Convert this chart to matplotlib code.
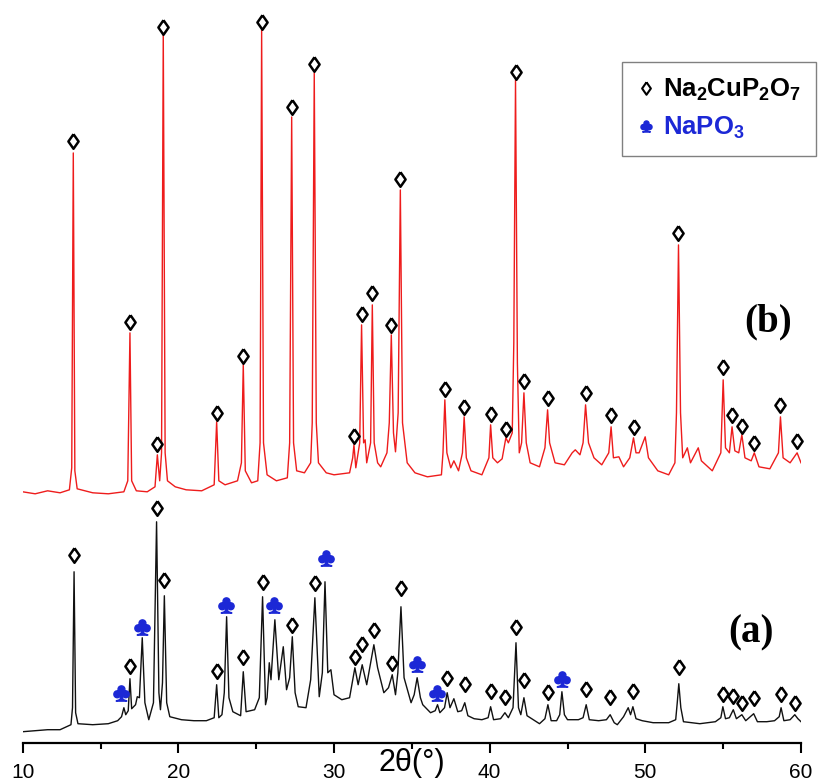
import matplotlib as mpl
mpl.use('Agg')
import matplotlib.pyplot as plt
import matplotlib.ticker as ticker
from matplotlib.lines import Line2D

OUTPUT_FILE = 'out.png'
DPI = 100
Y_MAX = 743

mpl.rcParams['font.family'] = 'Liberation Sans'
mpl.rcParams['mathtext.fontset'] = 'custom'
mpl.rcParams['mathtext.rm'] = 'Liberation Sans'
mpl.rcParams['mathtext.bf'] = 'Liberation Sans:bold'

COLORS = {'b': '#ee1c1c', 'a': '#111111', 'napo3': '#1c28d6'}

# (2theta, intensity a.u.), pattern (b) is stacked on top
red_pattern = [
    (10.0, 251), (10.8, 249), (11.6, 252), (12.4, 250), (13.0, 253),
    (13.15, 275), (13.25, 590), (13.35, 272), (13.5, 254), (14.5, 250),
    (15.5, 249), (16.5, 251), (16.75, 262), (16.89, 410), (17.0, 262),
    (17.3, 252), (18.0, 251), (18.5, 256), (18.65, 288), (18.8, 262),
    (18.92, 290), (19.03, 710), (19.15, 290), (19.3, 262), (19.8, 256),
    (20.5, 253), (21.5, 252), (22.3, 258), (22.46, 321), (22.6, 262),
    (23.0, 258), (23.8, 262), (24.05, 280), (24.17, 378), (24.3, 272),
    (24.7, 260), (25.1, 262), (25.25, 300), (25.35, 713), (25.47, 300),
    (25.7, 268), (26.3, 262), (27.0, 265), (27.15, 300), (27.28, 626),
    (27.4, 300), (27.6, 272), (28.1, 270), (28.5, 280), (28.6, 320),
    (28.73, 670), (28.86, 320), (29.0, 280), (29.5, 270), (30.0, 268),
    (31.0, 270), (31.2, 285), (31.28, 298), (31.4, 275), (31.65, 300),
    (31.77, 418), (31.9, 300), (32.0, 303), (32.1, 280), (32.35, 300),
    (32.46, 438), (32.58, 300), (32.8, 280), (33.0, 276), (33.4, 290),
    (33.55, 320), (33.68, 408), (33.82, 310), (33.95, 291), (34.12, 330),
    (34.26, 553), (34.4, 320), (34.7, 280), (35.2, 270), (36.0, 266),
    (36.9, 268), (37.0, 290), (37.12, 343), (37.25, 290), (37.5, 275),
    (37.7, 282), (38.0, 272), (38.25, 290), (38.36, 326), (38.5, 285),
    (38.8, 272), (39.5, 268), (39.95, 285), (40.06, 318), (40.2, 285),
    (40.5, 280), (40.8, 284), (41.04, 305), (41.2, 300), (41.45, 310),
    (41.55, 400), (41.66, 663), (41.78, 380), (41.9, 290), (42.05, 300),
    (42.2, 350), (42.35, 300), (42.6, 280), (43.2, 276), (43.55, 295),
    (43.72, 333), (43.85, 300), (44.2, 280), (44.8, 278), (45.3, 290),
    (45.5, 293), (45.8, 288), (46.0, 300), (46.16, 338), (46.35, 300),
    (46.7, 285), (47.2, 278), (47.65, 290), (47.8, 316), (47.95, 285),
    (48.3, 286), (48.6, 276), (49.0, 285), (49.24, 305), (49.4, 290),
    (49.6, 290), (49.99, 306), (50.2, 285), (50.8, 272), (51.5, 268),
    (51.9, 280), (52.0, 330), (52.13, 498), (52.26, 330), (52.4, 285),
    (52.7, 295), (52.9, 280), (53.4, 295), (53.6, 282), (54.3, 272),
    (54.85, 290), (55.0, 363), (55.15, 295), (55.4, 290), (55.57, 316),
    (55.75, 292), (56.0, 290), (56.2, 308), (56.4, 285), (56.8, 282),
    (57.0, 290), (57.3, 276), (58.0, 274), (58.55, 290), (58.68, 326),
    (58.85, 285), (59.3, 280), (59.75, 290), (60.0, 280),
]

black_pattern = [
    (10.0, 11), (10.8, 12), (11.6, 13), (12.4, 13), (13.1, 18),
    (13.2, 35), (13.3, 171), (13.4, 30), (13.55, 19), (14.5, 18),
    (15.5, 19), (16.1, 22), (16.35, 26), (16.5, 35), (16.62, 28),
    (16.78, 32), (16.89, 64), (17.0, 34), (17.25, 38), (17.36, 46),
    (17.5, 45), (17.68, 105), (17.85, 40), (18.1, 23), (18.4, 40),
    (18.6, 221), (18.75, 50), (18.85, 33), (18.98, 60), (19.1, 147),
    (19.25, 40), (19.45, 26), (20.2, 23), (21.0, 22), (21.8, 22),
    (22.3, 25), (22.46, 58), (22.6, 25), (22.8, 28), (22.95, 50),
    (23.1, 126), (23.25, 45), (23.5, 31), (24.0, 27), (24.17, 71),
    (24.35, 31), (24.9, 33), (25.2, 45), (25.41, 146), (25.6, 38),
    (25.7, 45), (25.84, 80), (25.95, 63), (26.2, 123), (26.45, 63),
    (26.74, 96), (26.95, 53), (27.15, 65), (27.32, 106), (27.5, 50),
    (27.7, 36), (28.2, 35), (28.5, 63), (28.77, 145), (29.05, 46),
    (29.25, 70), (29.42, 161), (29.6, 70), (29.8, 73), (30.0, 48),
    (30.5, 43), (31.0, 45), (31.34, 75), (31.55, 58), (31.81, 78),
    (32.1, 58), (32.35, 80), (32.56, 98), (32.8, 75), (33.2, 50),
    (33.5, 55), (33.74, 68), (33.95, 48), (34.1, 70), (34.3, 136),
    (34.5, 65), (34.95, 40), (35.15, 48), (35.34, 65), (35.55, 45),
    (35.7, 38), (36.2, 30), (36.5, 32), (36.65, 38), (36.8, 30),
    (37.1, 35), (37.27, 50), (37.45, 35), (37.7, 44), (37.95, 31),
    (38.2, 32), (38.4, 40), (38.6, 27), (39.0, 24), (39.5, 23),
    (39.9, 25), (40.06, 36), (40.25, 23), (40.7, 24), (40.98, 30),
    (41.2, 25), (41.5, 35), (41.69, 100), (41.85, 35), (42.0, 28),
    (42.2, 45), (42.4, 27), (42.7, 24), (43.2, 19), (43.55, 24),
    (43.74, 38), (43.95, 22), (44.3, 22), (44.5, 28), (44.64, 51),
    (44.8, 28), (45.0, 23), (45.7, 23), (46.0, 25), (46.2, 38),
    (46.4, 23), (47.0, 22), (47.5, 23), (47.74, 28), (48.0, 20),
    (48.2, 18), (48.6, 26), (48.9, 35), (49.05, 28), (49.2, 36),
    (49.4, 24), (49.8, 22), (50.5, 20), (51.5, 20), (51.95, 23),
    (52.05, 40), (52.15, 59), (52.28, 35), (52.45, 21), (53.0, 20),
    (53.5, 19), (54.5, 21), (54.85, 25), (54.98, 36), (55.15, 24),
    (55.4, 25), (55.65, 33), (55.85, 24), (56.2, 28), (56.45, 22),
    (56.96, 29), (57.2, 21), (57.8, 21), (58.3, 22), (58.6, 26),
    (58.72, 35), (58.9, 22), (59.3, 23), (59.6, 28), (59.8, 24),
    (60.0, 21),
]

# Na2CuP2O7 reflections (diamonds) and NaPO3 reflections (clubs)
red_peak_marks = [
    (13.25, 602), (16.89, 421), (18.65, 299), (19.03, 716), (22.46, 330),
    (24.17, 387), (25.35, 721), (27.28, 636), (28.73, 679), (31.28, 307),
    (31.77, 429), (32.46, 450), (33.68, 418), (34.26, 564), (37.12, 354),
    (38.36, 336), (40.06, 329), (41.04, 314), (41.66, 671), (42.2, 362),
    (43.72, 345), (46.16, 350), (47.8, 328), (49.24, 316), (52.13, 510),
    (55.0, 376), (55.57, 328), (56.2, 317), (57.0, 300), (58.68, 338),
    (59.75, 302),
]
black_peak_marks = [
    (13.3, 188), (16.89, 77), (18.6, 235), (19.1, 163), (22.46, 72),
    (24.17, 86), (25.41, 161), (27.32, 118), (28.77, 160), (31.34, 86),
    (31.81, 99), (32.56, 113), (33.74, 80), (34.3, 155), (37.27, 65),
    (38.4, 59), (40.06, 52), (40.98, 46), (41.69, 116), (42.2, 63),
    (43.74, 51), (46.2, 54), (47.74, 46), (49.2, 52), (52.15, 76),
    (54.98, 49), (55.65, 47), (56.2, 40), (56.96, 45), (58.72, 49),
    (59.6, 40),
]
club_marks = [
    (16.3, 50), (17.64, 116), (23.04, 138), (26.16, 138), (29.48, 185),
    (35.32, 79), (36.63, 50), (44.64, 64),
]

pattern_labels = [('(b)', 57.87, 421), ('(a)', 56.77, 110)]

DIAMOND = [(0, 1), (0.7, 0), (0, -1), (-0.7, 0), (0, 1)]


def split_xy(points):
    xs = [p[0] for p in points]
    ys = [p[1] for p in points]
    return xs, ys


def plot_xrd() -> None:
    fig = plt.figure(figsize=(8.18, 7.82), dpi=DPI)
    ax = fig.add_axes([22.7 / 818, 39.3 / 782, 778.3 / 818, 742.7 / 782])

    x, y = split_xy(red_pattern)
    ax.plot(x, y, color=COLORS['b'], linewidth=1.0)
    x, y = split_xy(black_pattern)
    ax.plot(x, y, color=COLORS['a'], linewidth=1.0)

    for marks in (red_peak_marks, black_peak_marks):
        x, y = split_xy(marks)
        ax.plot(x, y, linestyle='none', marker=DIAMOND, markersize=10.5,
                markerfacecolor='white', markeredgecolor='black',
                markeredgewidth=1.8, clip_on=False)

    x, y = split_xy(club_marks)
    ax.plot(x, y, linestyle='none', marker=r'$\clubsuit$', markersize=11,
            color=COLORS['napo3'], clip_on=False)

    for text, tx, ty in pattern_labels:
        ax.text(tx, ty, text, ha='center', va='center', fontsize=28,
                fontweight='bold', family='Liberation Serif')

    ax.set_xlim(10, 60)
    ax.set_ylim(0, Y_MAX)
    ax.xaxis.set_major_locator(ticker.MultipleLocator(10))
    ax.xaxis.set_minor_locator(ticker.MultipleLocator(5))
    ax.tick_params(axis='x', which='major', direction='out', length=7.5,
                   width=1.5, labelsize=15, pad=7)
    ax.tick_params(axis='x', which='minor', direction='out', length=4.5,
                   width=1.5)
    ax.set_yticks([])
    for side in ('left', 'right', 'top'):
        ax.spines[side].set_visible(False)
    ax.spines['bottom'].set_linewidth(1.6)

    ax.set_xlabel('2θ(°)', fontsize=22)
    ax.xaxis.set_label_coords(0.5, -0.007)

    handles = [
        Line2D([], [], linestyle='none', marker=DIAMOND, markersize=9,
               markerfacecolor='white', markeredgecolor='black',
               markeredgewidth=1.5),
        Line2D([], [], linestyle='none', marker=r'$\clubsuit$',
               markersize=8, color=COLORS['napo3']),
    ]
    labels = [r'$\mathbf{Na_2CuP_2O_7}$', r'$\mathbf{NaPO_3}$']
    leg = ax.legend(handles, labels, loc='upper right',
                    bbox_to_anchor=(816 / 818, 1 - 61.7 / 782),
                    bbox_transform=fig.transFigure, borderaxespad=0,
                    fontsize=18.5, labelcolor=['black', COLORS['napo3']],
                    handlelength=0.7, handletextpad=0.3, borderpad=0.6,
                    labelspacing=0.45, fancybox=False, framealpha=1)
    leg.get_frame().set_edgecolor('#808080')
    leg.get_frame().set_linewidth(1.0)

    fig.savefig(OUTPUT_FILE, dpi=DPI)
    plt.close(fig)


def main() -> None:
    plot_xrd()


if __name__ == '__main__':
    main()
